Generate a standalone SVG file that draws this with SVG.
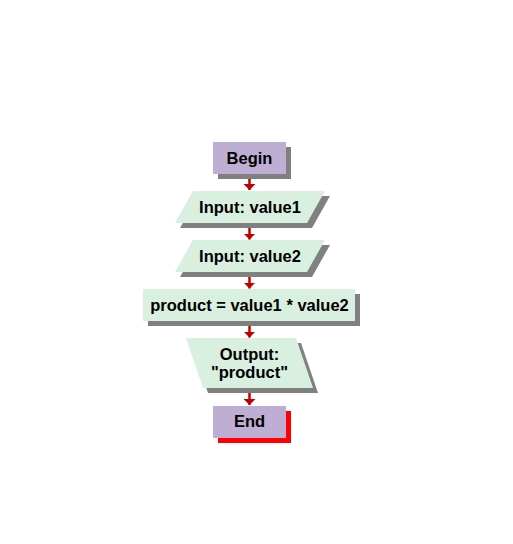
<svg xmlns="http://www.w3.org/2000/svg" width="513" height="544" viewBox="0 0 513 544">
<style>
.term{fill:#BFAED3}
.io{fill:#D9EFDF}
.sh{fill:#808080}
.t{font-family:"Liberation Sans",Arial,sans-serif;font-size:16.5px;font-weight:bold;fill:#000;text-anchor:middle}
.c{stroke:#C00000;stroke-width:2.5;fill:none}
</style>
<defs>
<marker id="ah" markerUnits="userSpaceOnUse" markerWidth="7" markerHeight="12" refX="6" refY="6" orient="auto">
<path d="M0,0 L6,6 L0,12 Z" fill="#C00000"/>
</marker>
</defs>
<rect width="513" height="544" fill="#fff"/>
<g id="connectors">
<line class="c" x1="249.5" y1="174" x2="249.5" y2="190" marker-end="url(#ah)"/>
<line class="c" x1="249.5" y1="223" x2="249.5" y2="239.5" marker-end="url(#ah)"/>
<line class="c" x1="249.5" y1="272" x2="249.5" y2="288.5" marker-end="url(#ah)"/>
<line class="c" x1="249.5" y1="321" x2="249.5" y2="337.5" marker-end="url(#ah)"/>
<line class="c" x1="249.5" y1="388" x2="249.5" y2="405" marker-end="url(#ah)"/>
</g>
<g id="begin">
<rect class="sh" x="218" y="147" width="73" height="32"/>
<rect class="term" x="213" y="142" width="73" height="32"/>
<text class="t" x="249.5" y="163.5">Begin</text>
</g>
<g id="input1">
<polygon class="sh" points="198,196 330,196 312,228 180,228"/>
<polygon class="io" points="193,191 325,191 307,223 175,223"/>
<text class="t" x="250" y="212.5">Input: value1</text>
</g>
<g id="input2">
<polygon class="sh" points="198,245 330,245 312,277 180,277"/>
<polygon class="io" points="193,240 325,240 307,272 175,272"/>
<text class="t" x="250" y="261.5">Input: value2</text>
</g>
<g id="product">
<rect class="sh" x="148" y="294" width="212" height="32"/>
<rect class="io" x="143" y="289" width="212" height="32"/>
<text class="t" x="249.5" y="310.5">product = value1 * value2</text>
</g>
<g id="output">
<polygon class="sh" points="191,343 301,343 318,393 208,393"/>
<polygon class="io" points="186,338 296,338 313,388 203,388"/>
<text class="t" x="249.5" y="360">Output:</text>
<text class="t" x="249.5" y="377.5">"product"</text>
</g>
<g id="end">
<rect x="218" y="411" width="73" height="32" fill="#FF0000"/>
<rect class="term" x="213" y="406" width="73" height="32"/>
<text class="t" x="249.5" y="427">End</text>
</g>
</svg>
